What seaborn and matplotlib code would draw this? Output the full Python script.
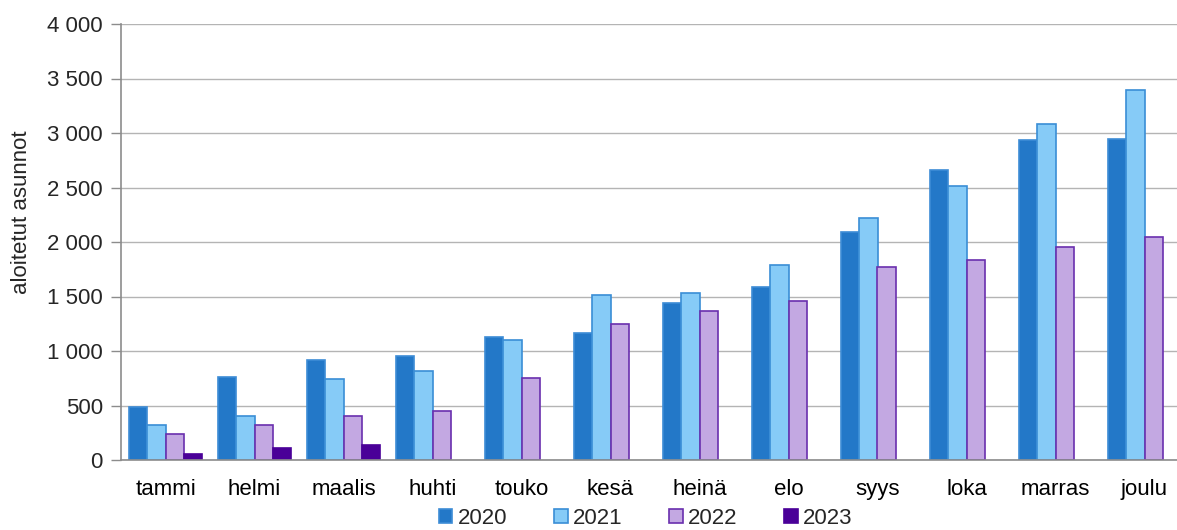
import matplotlib
matplotlib.use("Agg")
import matplotlib.pyplot as plt
import seaborn as sns
import numpy as np
import pandas as pd
from matplotlib.ticker import FuncFormatter, FixedLocator
from matplotlib.patches import Patch

months = ["tammi", "helmi", "maalis", "huhti", "touko", "kesä", "heinä", "elo", "syys", "loka", "marras", "joulu"]
years = ["2020", "2021", "2022", "2023"]
v2020 = [486, 761, 917, 954, 1128, 1165, 1440, 1587, 2092, 2661, 2936, 2945]
v2021 = [321, 404, 743, 817, 1101, 1514, 1532, 1789, 2220, 2514, 3083, 3394]
v2022 = [239, 321, 404, 450, 752, 1248, 1367, 1459, 1771, 1835, 1954, 2046]
v2023 = [55, 110, 138]

series = {"2020": v2020, "2021": v2021, "2022": v2022, "2023": v2023}
rows = []
for y, vals in series.items():
    for m, v in zip(months, vals):
        rows.append({"kuukausi": m, "vuosi": y, "arvo": v})
df = pd.DataFrame(rows)

fills = {"2020": "#2378C8", "2021": "#86CBF7", "2022": "#C3A8E2", "2023": "#4A0098"}
edges = {"2020": "#3D8CD6", "2021": "#3A8ED6", "2022": "#6A2FAE", "2023": "#4A0098"}

sns.set_theme(style="white")
plt.rcParams["font.family"] = ["Liberation Sans", "DejaVu Sans"]

fig = plt.figure(figsize=(11.77, 5.30), dpi=100)
ax = fig.add_axes([121/1177, 70/530, (1189-121)/1177, (460-24)/530])

sns.barplot(data=df, x="kuukausi", y="arvo", hue="vuosi", order=months, hue_order=years,
            palette=fills, width=0.82, dodge=True, saturation=1, ax=ax, legend=False,
            errorbar=None)

for cont, y in zip(ax.containers, years):
    for p in cont:
        p.set_edgecolor(edges[y])
        p.set_linewidth(1.2)

ax.set_ylim(0, 4000)
ax.set_xlim(-0.5, 11.5)
ax.yaxis.set_major_locator(FixedLocator(np.arange(0, 4001, 500)))
ax.yaxis.set_major_formatter(FuncFormatter(lambda v, p: f"{int(v):,}".replace(",", " ")))
ax.grid(axis="y", color="#B4B4B4", linewidth=1)
ax.set_axisbelow(True)

for s in ["top", "right"]:
    ax.spines[s].set_visible(False)
for s in ["left", "bottom"]:
    ax.spines[s].set_color("#8C8C8C")
    ax.spines[s].set_linewidth(1.2)

ax.set_xticks(np.arange(12))
ax.set_xticklabels(months)
ax.tick_params(axis="x", length=0, labelsize=16, pad=14, colors="black")
ax.set_xticks(np.arange(-0.5, 12, 1), minor=True)
ax.tick_params(axis="x", which="minor", length=6, color="#8C8C8C", width=1, direction="out")
ax.tick_params(axis="y", length=7, color="#8C8C8C", width=1, labelsize=16, pad=6,
               direction="out", left=True)
ax.set_xlabel("")
ax.set_ylabel("aloitetut asunnot", fontsize=16)
ax.yaxis.set_label_coords((32 - 121) / 1068, (460 - 212) / 436)

handles = [Patch(facecolor=fills[y], edgecolor=edges[y], linewidth=1.2, label=y) for y in years]
fig.legend(handles=handles, loc="center", bbox_to_anchor=(646/1177, 1 - 518/530), ncol=4,
           frameon=False, fontsize=16, handlelength=0.6, handleheight=0.6,
           handletextpad=0.25, columnspacing=2.1, borderaxespad=0)

fig.savefig("out.png", dpi=100)
